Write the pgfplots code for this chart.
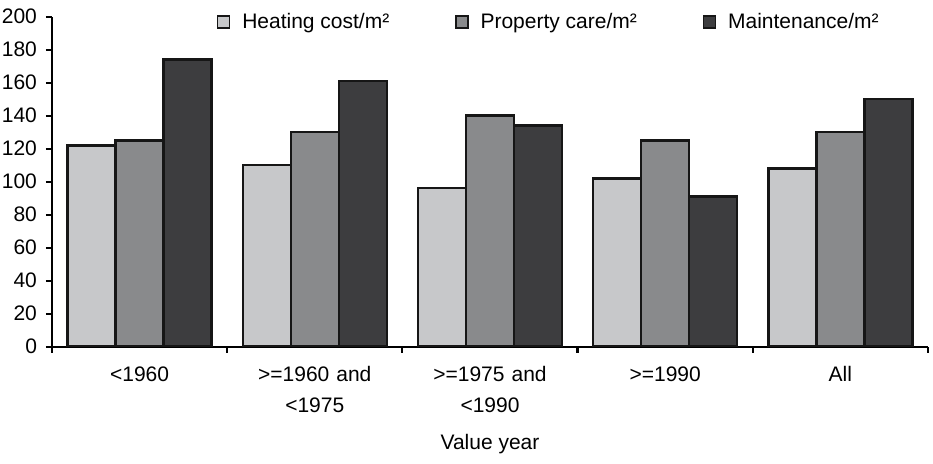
\documentclass[border=0pt]{standalone}
\usepackage{pgfplots}
\pgfplotsset{compat=1.18}
\usepackage{fontspec}
\setmainfont{Liberation Sans}
\definecolor{cLight}{HTML}{C7C8CA}
\definecolor{cMid}{HTML}{898A8C}
\definecolor{cDark}{HTML}{3D3D3F}
\definecolor{cEdge}{HTML}{161616}
\begin{document}
\begin{tikzpicture}
\useasboundingbox (-26pt,-58.65pt) rectangle (440.5pt,173.35pt);
\begin{axis}[
  at={(0pt,0pt)}, anchor=south west,
  scale only axis, width=438pt, height=165pt,
  font=\fontsize{10.5pt}{15.5pt}\selectfont,
  ybar=0pt, bar width=24pt,
  xmin=-0.5, xmax=4.5, ymin=0, ymax=200,
  axis x line=bottom, axis y line=left,
  axis line style={-, line width=1.1pt, color=black},
  ytick={0,20,...,200},
  ytick pos=left,
  tick align=outside,
  major tick length=3pt,
  tick style={line width=1.1pt, color=black},
  xtick={-0.5,0.5,...,4.5},
  xticklabels={},
  extra x ticks={0,1,2,3,4},
  extra x tick labels={{<1960},{>=1960 and\\<1975},{>=1975 and\\<1990},{>=1990},{All}},
  extra x tick style={major tick length=0pt, tick style={draw=none}},
  xticklabel style={align=center, text width=90pt, anchor=north, yshift=-6.5pt},
  yticklabel style={anchor=east, xshift=-1pt},
  /pgf/number format/assume math mode=true,
  xlabel={Value year},
  x label style={at={(axis description cs:0.5,0)}, anchor=center, yshift=-48.5pt},
  legend columns=3,
  legend style={at={(rel axis cs:0.188,0.984)}, anchor=west, draw=none, fill=none,
    inner sep=0pt, font=\fontsize{10.5pt}{12pt}\selectfont,
    /tikz/every odd column/.append style={column sep=4pt},
    /tikz/every even column/.append style={column sep=31pt}},
  legend image code/.code={\draw[#1, line width=0.6pt] (0pt,-3pt) rectangle (6pt,3pt);},
  legend cell align=left,
]
\addplot[fill=cLight, draw=cEdge, line width=1.2pt] coordinates {(0,122) (1,110) (2,96) (3,102) (4,108)};
\addplot[fill=cMid, draw=cEdge, line width=1.2pt] coordinates {(0,125) (1,130) (2,140) (3,125) (4,130)};
\addplot[fill=cDark, draw=cEdge, line width=1.2pt] coordinates {(0,174) (1,161) (2,134) (3,91) (4,150)};
\legend{Heating cost/m², Property care/m², Maintenance/m²}
\end{axis}
\end{tikzpicture}
\end{document}
